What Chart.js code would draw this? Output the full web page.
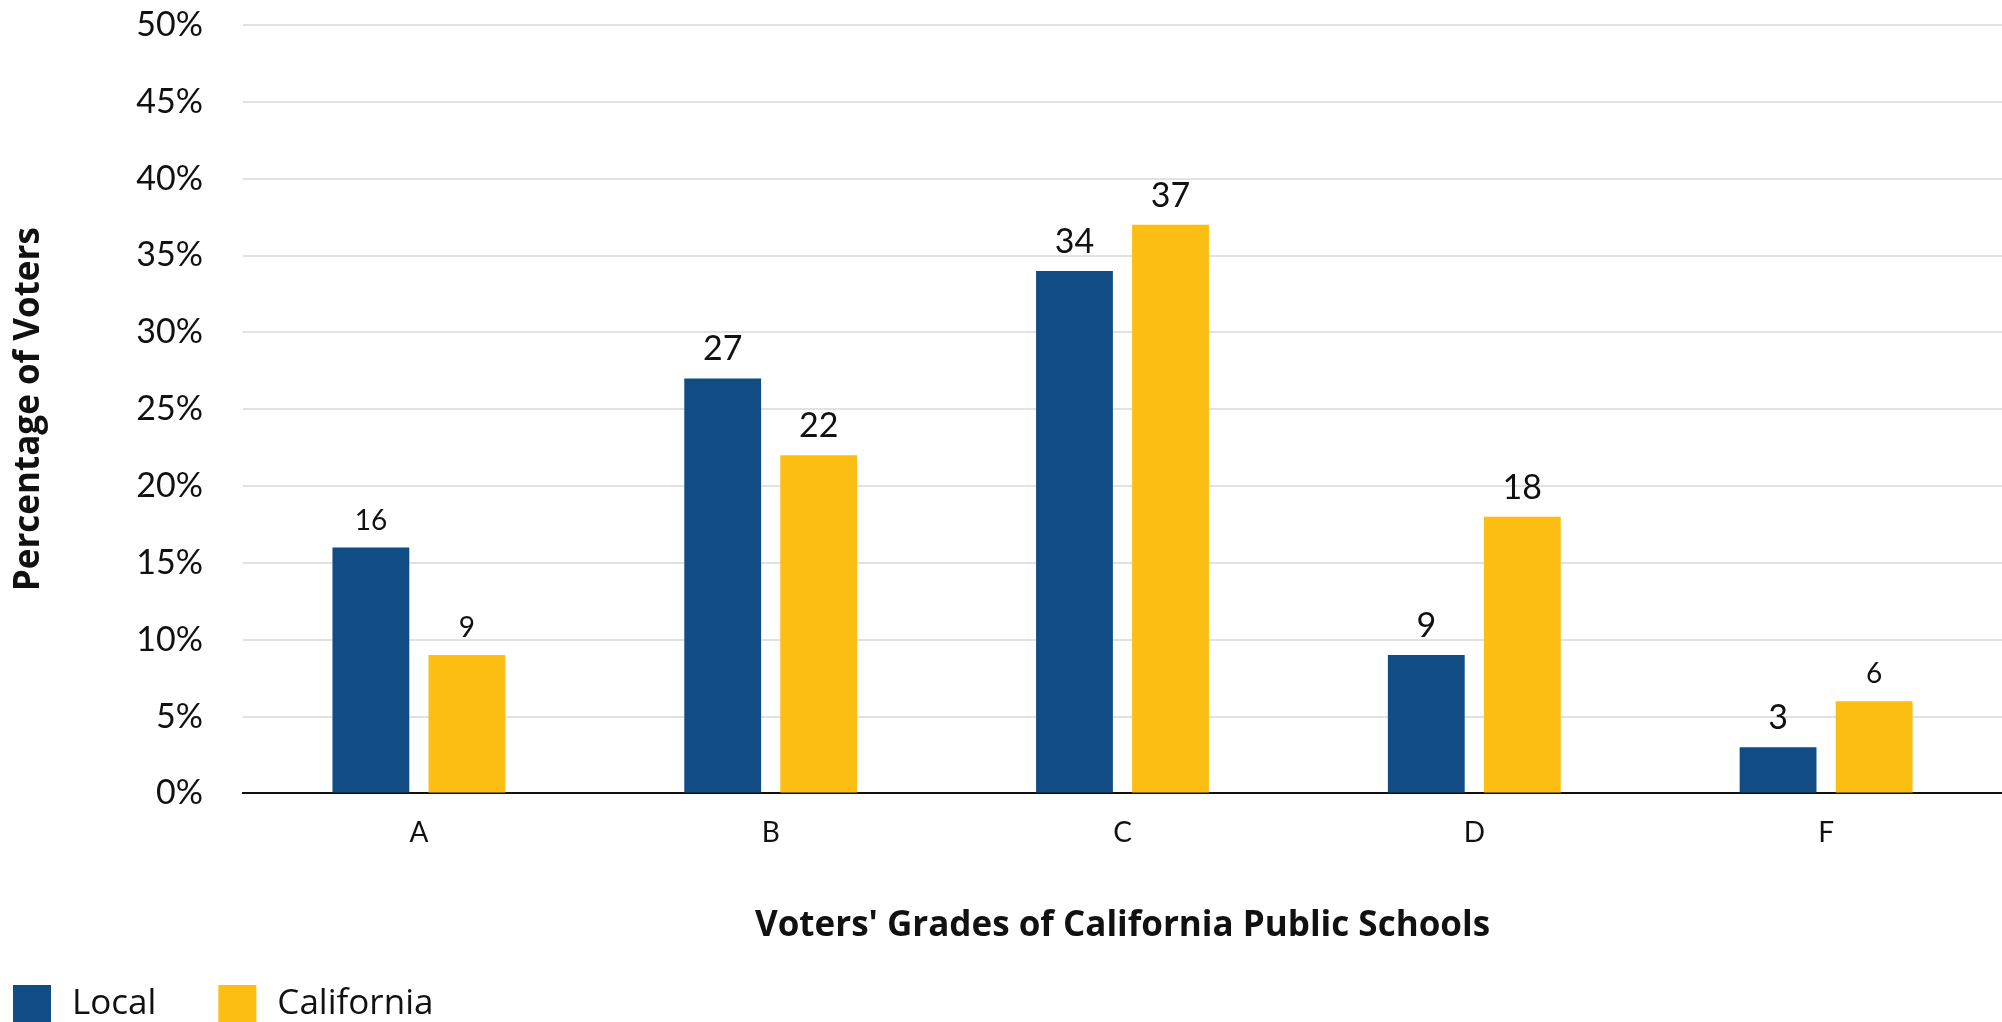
<!DOCTYPE html>
<html>
<head>
<meta charset="utf-8">
<script src="https://cdn.jsdelivr.net/npm/chart.js@4.4.1/dist/chart.umd.min.js"></script>
<style>
  html, body { margin: 0; padding: 0; background: #ffffff; overflow: hidden; }
  #wrap { position: relative; width: 2002px; height: 1022px; }
</style>
</head>
<body>
<div id="wrap"><canvas id="chart"></canvas></div>
<script>
// ---- Data ----
const categories = ['A', 'B', 'C', 'D', 'F'];
const seriesNames = ['Local', 'California'];
const localValues = [16, 27, 34, 9, 3];
const californiaValues = [9, 22, 37, 18, 6];
const yTickValues = [0, 5, 10, 15, 20, 25, 30, 35, 40, 45, 50];
const xAxisTitle = "Voters' Grades of California Public Schools";
const yAxisTitle = 'Percentage of Voters';

// ---- Style ----
const FONT = 'Lato, "Open Sans", "DejaVu Sans", sans-serif';
const FONT_WIDE = '"Open Sans", Lato, "DejaVu Sans", sans-serif';
const COLORS = ['#114D84', '#FCBE12'];
const TEXT = '#111111';
const labelFontSizes = [[28, 34, 34, 34, 34], [28, 34, 34, 34, 28]];

const valueLabels = {
  id: 'valueLabels',
  afterDatasetsDraw(chart) {
    const ctx = chart.ctx;
    ctx.save();
    ctx.fillStyle = TEXT;
    ctx.textAlign = 'center';
    ctx.textBaseline = 'alphabetic';
    chart.data.datasets.forEach((ds, di) => {
      const meta = chart.getDatasetMeta(di);
      meta.data.forEach((bar, i) => {
        ctx.font = labelFontSizes[di][i] + 'px ' + FONT;
        ctx.fillText(String(ds.data[i]), bar.x, bar.y - 18);
      });
    });
    ctx.restore();
  }
};

const customLegend = {
  id: 'customLegend',
  afterDraw(chart) {
    const ctx = chart.ctx;
    const box = 38;
    const top = chart.height - 37;
    let x = 13;
    ctx.save();
    ctx.font = '35px ' + FONT_WIDE;
    ctx.textBaseline = 'middle';
    ctx.textAlign = 'left';
    chart.data.datasets.forEach((ds, di) => {
      ctx.fillStyle = ds.backgroundColor;
      ctx.fillRect(x, top, box, box);
      const tx = x + box + 21;
      ctx.fillStyle = TEXT;
      ctx.fillText(ds.label, tx, top + 19);
      x = tx + ctx.measureText(ds.label).width + 62;
    });
    ctx.restore();
  }
};

const ctx = document.getElementById('chart').getContext('2d');
new Chart(ctx, {
  type: 'bar',
  data: {
    labels: categories,
    datasets: [
      { label: seriesNames[0], data: localValues, backgroundColor: COLORS[0] },
      { label: seriesNames[1], data: californiaValues, backgroundColor: COLORS[1] }
    ]
  },
  options: {
    responsive: true,
    maintainAspectRatio: false,
    animation: false,
    devicePixelRatio: 1,
    categoryPercentage: 0.546,
    barPercentage: 0.8,
    layout: { padding: { top: 25, right: 0, bottom: 75, left: 0 } },
    plugins: {
      legend: { display: false },
      tooltip: { enabled: false }
    },
    scales: {
      x: {
        grid: { display: false, drawTicks: false },
        border: { display: true, color: '#111111', width: 2 },
        ticks: { color: TEXT, font: { family: FONT, size: 28 }, padding: 23 },
        title: {
          display: true,
          text: xAxisTitle,
          color: TEXT,
          font: { family: FONT_WIDE, size: 35, weight: 'bold' },
          padding: { top: 32, bottom: 0 }
        }
      },
      y: {
        min: 0,
        max: 50,
        afterBuildTicks(scale) { scale.ticks = yTickValues.map(v => ({ value: v })); },
        afterFit(scale) { scale.width = 243; scale.paddingTop = 20; scale.paddingBottom = 20; },
        grid: { color: '#e2e2e2', lineWidth: 2, drawTicks: false },
        border: { display: false },
        ticks: {
          color: TEXT,
          font: { family: FONT, size: 34 },
          padding: 40,
          callback: (v) => v + '%'
        },
        title: {
          display: true,
          text: yAxisTitle,
          color: TEXT,
          font: { family: FONT_WIDE, size: 35, weight: 'bold' },
          padding: { top: 8, bottom: 0 }
        }
      }
    }
  },
  plugins: [valueLabels, customLegend]
});
</script>
</body>
</html>
